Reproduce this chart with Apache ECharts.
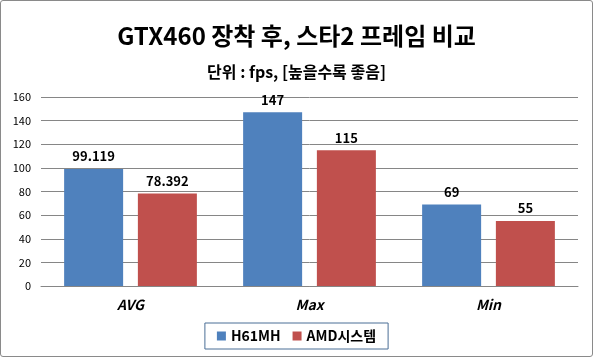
<!DOCTYPE html>
<html><head><meta charset="utf-8">
<script src="https://cdn.jsdelivr.net/npm/echarts@6/dist/echarts.min.js"></script>
<style>
html,body{margin:0;padding:0;background:#fff;}
#wrap{position:absolute;left:0;top:0;width:591px;height:355px;border:1px solid #8a8a8a;border-radius:3px;}
#c{width:593px;height:357px;position:absolute;left:0;top:0;}
</style></head><body>
<div id="wrap"></div>
<div id="c"></div>
<script>
const categories = ['AVG', 'Max', 'Min'];
const seriesNames = ['H61MH', 'AMD시스템'];
const h61Values = [99.119, 147, 69];
const amdValues = [78.392, 115, 55];
const titleText = 'GTX460 장착 후, 스타2 프레임 비교';
const subText = '단위 : fps, [높을수록 좋음]';

const font = '"Noto Sans CJK KR", "Noto Sans", sans-serif';
const chart = echarts.init(document.getElementById('c'), null, {renderer: 'canvas'});
chart.setOption({
  animation: false,
  title: [
    {text: titleText, left: 'center', top: 19, textStyle: {fontFamily: font, fontSize: 24, fontWeight: 'bold', color: '#000'}},
    {text: subText, left: 'center', top: 59, textStyle: {fontFamily: font, fontSize: 16, fontWeight: 'bold', color: '#000'}}
  ],
  grid: {left: 41, right: 15, top: 97, bottom: 71, containLabel: false},
  legend: {
    bottom: 8, left: 'center',
    data: seriesNames,
    itemWidth: 9, itemHeight: 9, itemGap: 12,
    padding: [6, 12, 6, 12],
    borderColor: '#4a6e96', borderWidth: 1,
    icon: 'rect',
    textStyle: {fontFamily: font, fontSize: 14, fontWeight: 'bold', color: '#000'}
  },
  xAxis: {
    type: 'category', data: categories,
    axisLine: {lineStyle: {color: '#868686'}},
    axisTick: {show: false},
    axisLabel: {fontFamily: font, fontSize: 14, fontWeight: 'bold', fontStyle: 'italic', color: '#000', margin: 12}
  },
  yAxis: {
    type: 'value', min: 0, max: 160, interval: 20,
    axisLine: {show: false}, axisTick: {show: false},
    splitLine: {lineStyle: {color: '#868686'}},
    axisLabel: {fontFamily: font, fontSize: 11, color: '#000', margin: 10}
  },
  series: [
    {name: seriesNames[0], type: 'bar', data: h61Values, barWidth: 59, barGap: '25%',
     itemStyle: {color: '#4F81BD'},
     label: {show: true, position: 'top', distance: 6, fontFamily: font, fontSize: 13, fontWeight: 'bold', color: '#000'}},
    {name: seriesNames[1], type: 'bar', data: amdValues, barWidth: 59,
     itemStyle: {color: '#C0504D'},
     label: {show: true, position: 'top', distance: 6, fontFamily: font, fontSize: 13, fontWeight: 'bold', color: '#000'}}
  ]
});
</script>
</body></html>
